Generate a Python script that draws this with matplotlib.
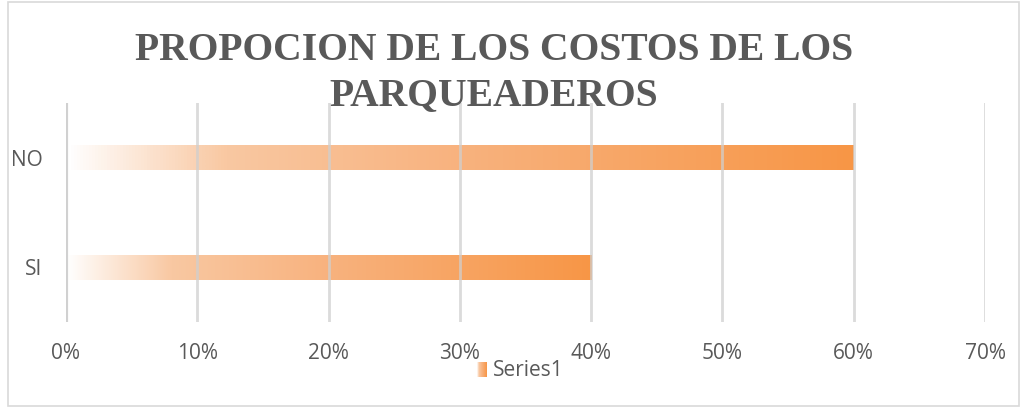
import numpy as np
import matplotlib.pyplot as plt
from matplotlib.colors import LinearSegmentedColormap
from matplotlib.patches import Rectangle

categories = ['SI', 'NO']
values = [0.40, 0.60]
xticks = [0, 0.1, 0.2, 0.3, 0.4, 0.5, 0.6, 0.7]
xtick_labels = ['0%', '10%', '20%', '30%', '40%', '50%', '60%', '70%']
title = 'PROPOCION DE LOS COSTOS DE LOS\nPARQUEADEROS'
series_name = 'Series1'

orange = '#F79646'
grad = LinearSegmentedColormap.from_list(
    'grad', [(0, '#FFFFFF'), (0.2, '#F9C8A2'), (0.5, '#F8B27E'), (1, orange)])
g = np.linspace(0, 1, 256).reshape(1, -1)

fig = plt.figure(figsize=(10.21, 4.08), dpi=100)
ax = fig.add_axes([66 / 1021, 1 - 322 / 408, (985 - 66) / 1021, (322 - 103) / 408])

# outer chart border
fig.patches.append(Rectangle((8 / 1021, 2 / 408), 1011 / 1021, 404 / 408,
                             transform=fig.transFigure, fill=False,
                             edgecolor='#D9D9D9', linewidth=1.2))

bar_h = 0.23
bars = ax.barh(range(len(categories)), values, height=bar_h, color='none', zorder=3)
for b in bars:
    x0, y0 = b.get_x(), b.get_y()
    w, h = b.get_width(), b.get_height()
    im = ax.imshow(g, cmap=grad, aspect='auto', extent=[x0, x0 + w, y0, y0 + h],
                   zorder=2, interpolation='bilinear')
    im.set_clip_path(b)

ax.set_xlim(0, 0.7)
ax.set_ylim(-0.5, 1.5)
ax.set_xticks(xticks)
ax.set_xticklabels(xtick_labels)
ax.set_yticks(range(len(categories)))
ax.set_yticklabels(categories)
ax.grid(axis='x', color='#CFCFCF', linewidth=2, alpha=0.75, zorder=4)
ax.set_axisbelow(False)
ax.axvline(0, color='#CFCFCF', linewidth=3, alpha=0.85, zorder=4)
for s in ax.spines.values():
    s.set_visible(False)
ax.tick_params(length=0, labelsize=15, labelcolor='#595959')
ax.tick_params(axis='x', pad=15)
ax.tick_params(axis='y', pad=17)
for lab in ax.get_xticklabels() + ax.get_yticklabels():
    lab.set_fontfamily('Open Sans')

fig.text(0.484, 1 - 114 / 408, title, ha='center', va='bottom', fontsize=28.5,
         fontweight='bold', family='Liberation Serif', color='#595959',
         linespacing=1.27)

# legend: gradient swatch + label
lax = fig.add_axes([477 / 1021, 1 - 377 / 408, 10 / 1021, 15 / 408])
lax.imshow(g, cmap=grad, aspect='auto', extent=[0, 1, 0, 1], interpolation='bilinear')
lax.set_axis_off()
fig.text(493 / 1021, 1 - 370 / 408, series_name, ha='left', va='center',
         fontsize=15, family='Open Sans', color='#595959')

fig.savefig('out.png', dpi=100)
